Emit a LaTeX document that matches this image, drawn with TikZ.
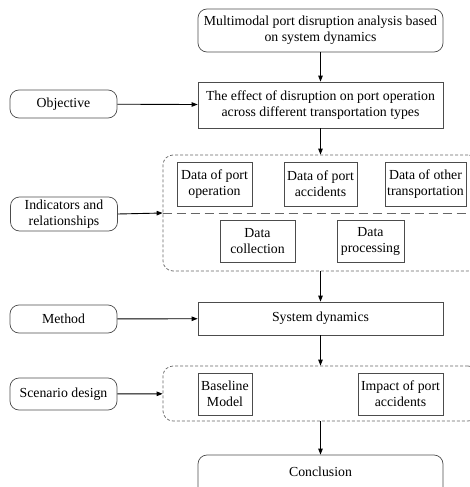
\documentclass[tikz,border=0pt]{standalone}
\usepackage{fontspec}
\setmainfont{Liberation Serif}
\usetikzlibrary{arrows.meta}

\begin{document}
\begin{tikzpicture}[
  x=1pt, y=-1pt,
  font=\rmfamily\fontsize{13.8}{16}\selectfont,
  rbox/.style={draw=black!70, line width=0.7pt, rounded corners=9pt, align=center, inner sep=1pt},
  sbox/.style={draw=black!70, line width=0.7pt, align=center, inner sep=1pt},
  group/.style={draw=black!60, line width=0.7pt, dash pattern=on 3pt off 2pt, rounded corners=10pt, inner sep=0pt},
  flow/.style={-{Triangle[length=6pt,width=4.5pt]}, line width=0.9pt},
]
  \useasboundingbox (0,0) rectangle (469,487);

  % main column
  \node[rbox, minimum width=245, minimum height=43] (aim) at (320.5,30.5)
    {Multimodal port disruption analysis based\\on system dynamics};
  \node[sbox, minimum width=245, minimum height=46] (effect) at (320.5,105)
    {The effect of disruption on port operation\\across different transportation types};

  % indicators group
  \node[group, minimum width=315, minimum height=116] (ind) at (320.5,213) {};
  \draw[draw=black!60, line width=0.7pt, dash pattern=on 9pt off 5pt] (ind.west) -- (469,213);
  \node[sbox, minimum width=75, minimum height=44] (dpo) at (214.5,184) {Data of port\\operation};
  \node[sbox, minimum width=73, minimum height=44] (dpa) at (320.5,184) {Data of port\\accidents};
  \node[sbox, minimum width=81, minimum height=44] (dot) at (425.5,184) {Data of other\\transportation};
  \node[sbox, minimum width=75, minimum height=42] (dcol) at (257.5,241) {Data\\collection};
  \node[sbox, minimum width=67, minimum height=42] (dproc) at (370.5,241) {Data\\processing};

  \node[sbox, minimum width=245, minimum height=33] (sysdyn) at (320.5,318.5) {System dynamics};

  % scenario group
  \node[group, minimum width=315, minimum height=55] (scen) at (320.5,393.5) {};
  \node[sbox, minimum width=54, minimum height=42] (base) at (225,394) {Baseline\\Model};
  \node[sbox, minimum width=85, minimum height=42] (impact) at (400.5,394) {Impact of port\\accidents};

  \node[rbox, minimum width=245, minimum height=42] (concl) at (320.5,476) {};
  \node (conclt) at (320.5,472) {Conclusion};

  % left column
  \node[rbox, minimum width=107, minimum height=28] (obj) at (63.5,104) {Objective};
  \node[rbox, minimum width=107, minimum height=34] (indrel) at (64,214) {Indicators and\\relationships};
  \node[rbox, minimum width=107, minimum height=28] (meth) at (63.5,319) {Method};
  \node[rbox, minimum width=107, minimum height=32] (scd) at (63.5,394) {Scenario design};

  % arrows
  \draw[flow] (aim) -- (effect);
  \draw[flow] (effect) -- (ind);
  \draw[flow] (ind) -- (sysdyn);
  \draw[flow] (sysdyn) -- (scen);
  \draw[flow] (scen) -- (concl);
  \draw[flow] (obj) -- (effect);
  \draw[flow] (indrel.east) -- (ind.west);
  \draw[flow] (meth) -- (sysdyn);
  \draw[flow] (scd) -- (scen);
\end{tikzpicture}
\end{document}
